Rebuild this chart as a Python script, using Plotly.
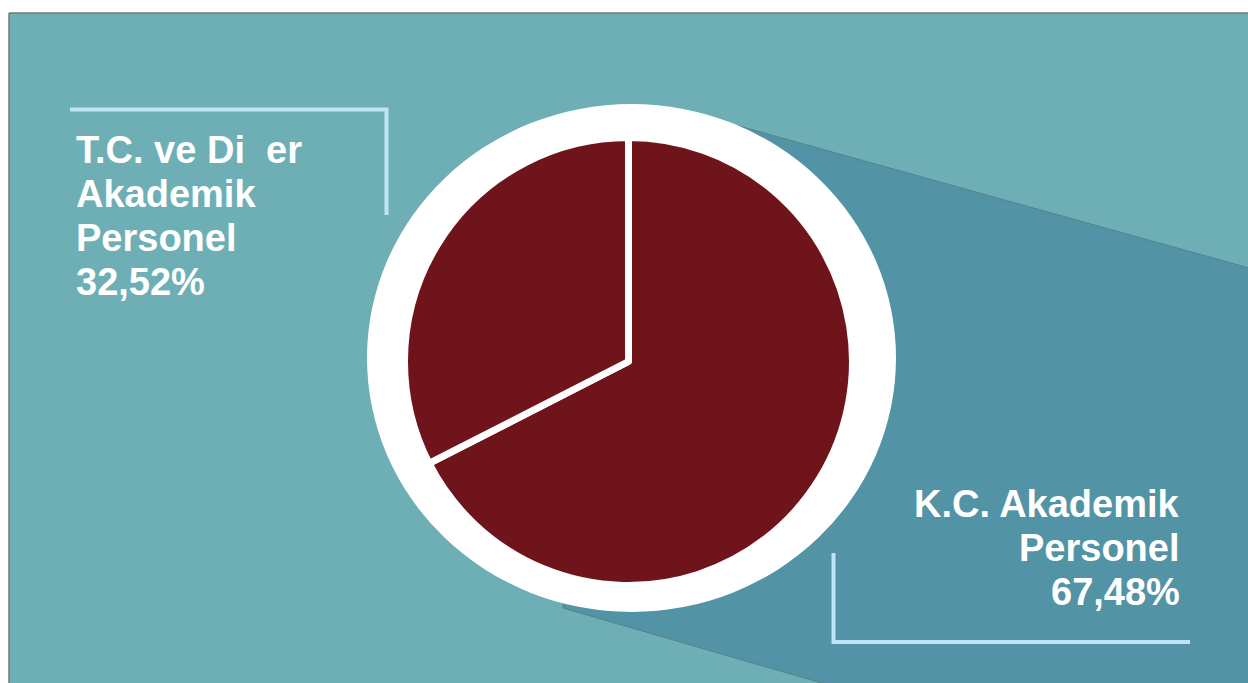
import plotly.graph_objects as go

# ---- data ----
labels = ["K.C. Akademik Personel", "T.C. ve Diğer Akademik Personel"]
values = [67.48, 32.52]
left_lines = ["T.C. ve Di\u00a0\u00a0er", "Akademik", "Personel", "32,52%"]
right_lines = ["K.C. Akademik", "Personel", "67,48%"]

W, H = 1248, 683
BG = "#6DAFB4"
SHADOW = "#5393A6"
RED = "#70141C"
LBLUE = "#BEE4F8"

fig = go.Figure()

# invisible pixel-space cartesian frame for decorations
fig.add_trace(go.Scatter(x=[0, W], y=[0, H], mode="markers",
                         marker=dict(opacity=0), hoverinfo="skip", showlegend=False))

# pie (center 628.5, 361.5 px ; radius 224 px)
cx, cy, r = 628.5, 361.5, 224
fig.add_trace(go.Pie(
    labels=labels, values=values, sort=False, direction="clockwise",
    rotation=0, textinfo="none", hoverinfo="label+percent", showlegend=False,
    marker=dict(colors=[RED, RED], line=dict(color="white", width=7)),
    domain=dict(x=[(cx - r) / W, (cx + r) / W], y=[1 - (cy + r) / H, 1 - (cy - r) / H]),
))

shapes = []
# teal background panel
shapes.append(dict(type="rect", x0=9, y0=13, x1=W + 2, y1=H + 2, fillcolor=BG,
                   line=dict(width=0), layer="below"))
shapes.append(dict(type="line", x0=9, y0=13, x1=W, y1=13, line=dict(color="#777777", width=1.5), layer="below"))
shapes.append(dict(type="line", x0=9, y0=13, x1=9, y1=H, line=dict(color="#777777", width=1.5), layer="below"))
# shadow
shapes.append(dict(type="path",
                   path="M 739 126 L 1249 268 L 1249 684 L 825 684 L 563 608 L 563 600 L 628 360 Z",
                   fillcolor=SHADOW, line=dict(color="#58808c", width=1), layer="below"))
# white ring
shapes.append(dict(type="circle", x0=367, y0=104, x1=896, y1=612, fillcolor="white",
                   line=dict(width=0), layer="below"))
# brackets
bl = dict(color=LBLUE, width=4)
shapes.append(dict(type="path", path="M 70 109.5 L 386.5 109.5 L 386.5 215",
                   line=bl, layer="below"))
shapes.append(dict(type="path", path="M 833.5 553 L 833.5 642 L 1190 642",
                   line=bl, layer="below"))

annotations = []
fs = 38
font = dict(family="Liberation Sans, Arial, sans-serif", size=fs, color="white")
for i, t in enumerate(left_lines):
    base = 163 + 44 * i
    annotations.append(dict(x=74, y=base - 0.3465 * fs, xref="x", yref="y", text="<b>%s</b>" % t,
                            showarrow=False, xanchor="left", yanchor="middle", font=font))
for i, t in enumerate(right_lines):
    base = 517 + 44 * i
    annotations.append(dict(x=1182, y=base - 0.3465 * fs, xref="x", yref="y", text="<b>%s</b>" % t,
                            showarrow=False, xanchor="right", yanchor="middle", font=font))

fig.update_layout(
    width=W, height=H, margin=dict(l=0, r=0, t=0, b=0),
    paper_bgcolor="white", plot_bgcolor="rgba(0,0,0,0)",
    xaxis=dict(range=[0, W], visible=False, fixedrange=True, domain=[0, 1]),
    yaxis=dict(range=[H, 0], visible=False, fixedrange=True, domain=[0, 1]),
    shapes=shapes, annotations=annotations,
)

fig.write_html("out.html", config=dict(displayModeBar=False),
               post_script="document.body.style.margin='0';document.body.style.overflow='hidden';")
